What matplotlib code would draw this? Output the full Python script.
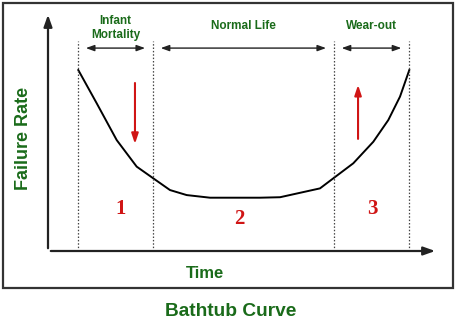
import matplotlib
matplotlib.use("Agg")
import matplotlib.pyplot as plt
from matplotlib.patches import Rectangle

# ---- data ----
time = [7.77, 12.49, 17.62, 22.74, 27.0, 31.28, 35.56, 41.54, 54.36, 59.5,
        69.74, 73.15, 78.28, 83.41, 87.26, 90.26, 92.64]
failure_rate = [75.7, 61.8, 46.4, 35.3, 30.4, 25.5, 23.4, 22.3, 22.3, 22.5,
                26.2, 30.4, 36.7, 45.7, 54.8, 64.6, 75.7]
phase_bounds = [7.7, 26.9, 73.3, 92.6]
phase_names = ["Infant\nMortality", "Normal Life", "Wear-out"]
phase_numbers = ["1", "2", "3"]

GREEN = "#1a6b1a"
RED = "#d01515"
W, H = 455, 335
fig = plt.figure(figsize=(W / 100, H / 100), dpi=100)

# background / decoration axes in pixel coordinates
bg = fig.add_axes([0, 0, 1, 1])
bg.set_xlim(0, W)
bg.set_ylim(H, 0)
bg.axis("off")
bg.add_patch(Rectangle((3, 3), 450, 285, fill=False, edgecolor="#333333", linewidth=1.6))
sans = "Liberation Sans"
bg.text(24, 138, "Failure Rate", rotation=90, ha="center", va="center", color=GREEN,
        fontsize=13, fontweight="bold", family=sans)
bg.text(205, 273, "Time", ha="center", va="center", color=GREEN,
        fontsize=12, fontweight="bold", family=sans)
bg.text(231, 312, "Bathtub Curve", ha="center", va="center", color=GREEN,
        fontsize=13.8, fontweight="bold", family=sans)

# data axes
left, right, top, bottom = 48, 438, 12, 251
ax = fig.add_axes([left / W, (H - bottom) / H, (right - left) / W, (bottom - top) / H])
ax.set_xlim(0, 100)
ax.set_ylim(0, 100)
ax.axis("off")

# axes arrows
ax.annotate("", xy=(0, 100), xytext=(0, 0), xycoords="data",
            arrowprops=dict(arrowstyle="-|>,head_length=0.7,head_width=0.25", color="#222222", lw=1.6),
            annotation_clip=False)
ax.annotate("", xy=(100, 0), xytext=(0, 0), xycoords="data",
            arrowprops=dict(arrowstyle="-|>,head_length=0.7,head_width=0.25", color="#222222", lw=1.6),
            annotation_clip=False)

# curve
ax.plot(time, failure_rate, color="black", lw=1.4, solid_joinstyle="round")

# dotted boundaries
for b in phase_bounds:
    ax.plot([b, b], [0, 87.9], color="#444444", lw=0.9, linestyle=(0, (1.2, 1.5)))

# phase ranges, labels, numbers
arrow_y = 84.9
label_y = [93.4, 94.0, 94.0]
num_pos = [(18.5, 17.6), (49.0, 13.4), (83.1, 17.6)]
for i in range(3):
    a, b = phase_bounds[i], phase_bounds[i + 1]
    ax.annotate("", xy=(b - 2.0, arrow_y), xytext=(a + 2.0, arrow_y),
                arrowprops=dict(arrowstyle="<|-|>,head_length=0.5,head_width=0.18",
                                color="#222222", lw=1.0, shrinkA=0, shrinkB=0),
                annotation_clip=False)
    ax.text((a + b) / 2, label_y[i], phase_names[i], ha="center", va="center",
            color=GREEN, fontsize=8.5, fontweight="bold", family=sans,
            linespacing=1.25, clip_on=False)
    ax.text(num_pos[i][0], num_pos[i][1], phase_numbers[i], ha="center", va="center",
            color=RED, fontsize=15, fontweight="bold", family="Liberation Serif")

# red trend arrows
ax.annotate("", xy=(22.3, 44.8), xytext=(22.3, 70.3),
            arrowprops=dict(arrowstyle="-|>,head_length=0.6,head_width=0.2", color=RED, lw=1.5,
                            shrinkA=0, shrinkB=0))
ax.annotate("", xy=(79.5, 69.5), xytext=(79.5, 46.9),
            arrowprops=dict(arrowstyle="-|>,head_length=0.6,head_width=0.2", color=RED, lw=1.5,
                            shrinkA=0, shrinkB=0))

fig.savefig("out.png", dpi=100, facecolor="white")
